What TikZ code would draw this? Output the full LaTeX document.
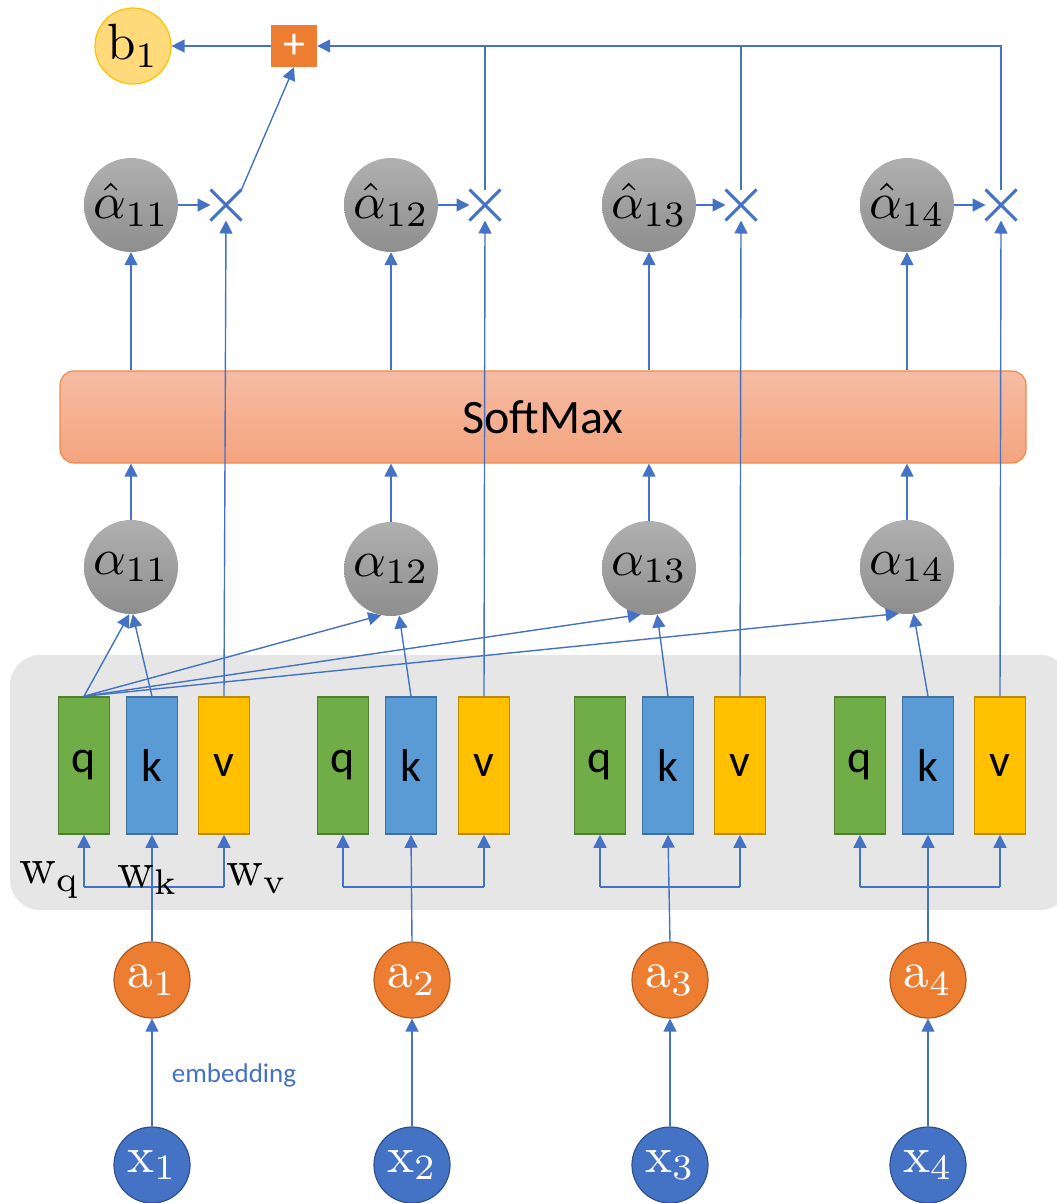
\documentclass[tikz,border=0pt]{standalone}
\usepackage{fontspec}
\newfontfamily\calib{Carlito}
\usetikzlibrary{arrows.meta,shapes.misc,calc}
\newcommand\BigMath[1]{\scalebox{5.1}{$#1$}}
\definecolor{lb}{HTML}{4472C4}
\definecolor{qfill}{HTML}{70AD47}
\definecolor{qdraw}{HTML}{507E32}
\definecolor{kfill}{HTML}{5B9BD5}
\definecolor{kdraw}{HTML}{41719C}
\definecolor{vfill}{HTML}{FFC000}
\definecolor{vdraw}{HTML}{BC8C00}
\definecolor{afill}{HTML}{ED7D31}
\definecolor{adraw}{HTML}{AE5A21}
\definecolor{xfill}{HTML}{4472C4}
\definecolor{xdraw}{HTML}{2F528F}
\definecolor{bfill}{HTML}{FFD97A}
\definecolor{bdraw}{HTML}{FFC000}
\definecolor{gtop}{HTML}{B0B0B0}
\definecolor{gbot}{HTML}{8E8E8E}
\definecolor{smtop}{HTML}{F5BCA3}
\definecolor{smbot}{HTML}{F4A47F}
\definecolor{smdraw}{HTML}{F08A4B}
\definecolor{panelc}{HTML}{E6E6E6}
\begin{document}
\begin{tikzpicture}[x=1pt,y=-1pt,
  conn/.style={draw=lb, line width=1.4pt},
  arr/.style={conn, -{Triangle[length=13pt,width=13pt]}},
  gnode/.style={circle, minimum size=94pt, inner sep=0pt, top color=gtop, bottom color=gbot, draw=none},
  anode/.style={circle, minimum size=76pt, inner sep=0pt, fill=afill, draw=adraw, line width=1.2pt, text=white},
  xnode/.style={circle, minimum size=76pt, inner sep=0pt, fill=xfill, draw=xdraw, line width=1.2pt, text=white},
  vecbox/.style={rectangle, minimum width=51pt, minimum height=137pt, inner sep=0pt, line width=1.5pt, font=\calib\fontsize{46}{52}\selectfont},
  qbox/.style={vecbox, fill=qfill, draw=qdraw},
  kbox/.style={vecbox, fill=kfill, draw=kdraw},
  vbox/.style={vecbox, fill=vfill, draw=vdraw},
  mult/.style={cross out, draw=lb, line width=3pt, minimum size=28pt, inner sep=0pt},
  wlab/.style={inner sep=0pt}
]
\useasboundingbox (0,0) rectangle (1057,1203);
% panel
\node[rectangle, rounded corners=30pt, fill=panelc, minimum width=1060pt, minimum height=255pt, inner sep=0pt] (panel) at (540,782.5) {};
% softmax
\node[rectangle, rounded corners=14pt, top color=smtop, bottom color=smbot, draw=smdraw, line width=1.2pt, minimum width=966pt, minimum height=92pt, inner sep=0pt, font=\calib\fontsize{48}{54}\selectfont] (sm) at (543,417) {SoftMax};
% b1 and plus
\node[circle, minimum size=76pt, inner sep=0pt, fill=bfill, draw=bdraw, line width=1.2pt] (b1) at (133,46) {\BigMath{\mathrm{b}_1}};
\node[rectangle, minimum width=46pt, minimum height=42pt, inner sep=0pt, fill=afill, text=white, font=\calib\fontsize{44}{44}\selectfont] (plus) at (294,46) {+};
% alpha hat & mult
\foreach \i/\x/\m in {1/131/226, 2/391/485, 3/649/741, 4/907/1001}{
  \node[gnode] (ah\i) at (\x,205) {\BigMath{\hat{\alpha}_{1\i}}};
  \node[mult] (m\i) at (\m,205) {};
}
% alpha
\node[gnode] (al1) at (131,567) {\BigMath{\alpha_{11}}};
\node[gnode] (al2) at (391,569) {\BigMath{\alpha_{12}}};
\node[gnode] (al3) at (649,568) {\BigMath{\alpha_{13}}};
\node[gnode] (al4) at (907,567) {\BigMath{\alpha_{14}}};
% qkv
\foreach \i/\q/\k/\v/\xx in {1/84/152/224/152, 2/343/411/484/412, 3/600/668/740/670, 4/860/928/1000/928}{
  \node[qbox] (q\i) at (\q,765.5) {q};
  \node[kbox] (k\i) at (\k,765.5) {k};
  \node[vbox] (v\i) at (\v,765.5) {v};
  \node[anode] (a\i) at (\xx,980) {\BigMath{\mathrm{a}_\i}};
  \node[xnode] (x\i) at (\xx,1165) {\BigMath{\mathrm{x}_\i}};
  \coordinate (bq\i) at (\q,887);
  \coordinate (bv\i) at (\v,887);
  \draw[conn] (bq\i) -- (bv\i);
  \draw[arr] (bq\i) -- (q\i.south);
  \draw[arr] (bv\i) -- (v\i.south);
  \draw[arr] (a\i.north) -- (k\i.south);
  \draw[arr] (x\i.north) -- (a\i.south);
  \draw[arr] (v\i.north) -- (m\i.south);
  \draw[arr] (ah\i.east) -- (m\i.west);
  \draw[arr] (ah\i |- sm.north) -- (ah\i.south);
  \draw[arr] (al\i.north) -- (al\i |- sm.south);
}
% labels w
\node[wlab] (wq) at (50,880) {\BigMath{\mathrm{w}_\mathrm{q}}};
\node[wlab] (wk) at (148,880) {\BigMath{\mathrm{w}_\mathrm{k}}};
\node[wlab] (wv) at (257,879) {\BigMath{\mathrm{w}_\mathrm{v}}};
% embedding
\node[text=lb, font=\calib\fontsize{27}{32}\selectfont, inner sep=0pt] (emb) at (234,1075) {embedding};
% q1 to alphas
\draw[arr] (q1.north) -- (al1.-92);
\draw[arr] (k1.north) -- (al1.-88);
\draw[arr] (q1.north) -- (al2.-102);
\draw[arr] (q1.north) -- (al3.-100);
\draw[arr] (q1.north) -- (al4.-100);
\draw[arr] (k2.north) -- (al2.-80);
\draw[arr] (k3.north) -- (al3.-80);
\draw[arr] (k4.north) -- (al4.-82);
% mult to plus
\draw[arr] (m1.north east) -- (plus.south);
\draw[conn] (m2.north) -- (m2 |- plus.east);
\draw[conn] (m3.north) -- (m3 |- plus.east);
\draw[arr] (m4.north) |- (plus.east);
\draw[arr] (plus.west) -- (b1.east);
\end{tikzpicture}
\end{document}
